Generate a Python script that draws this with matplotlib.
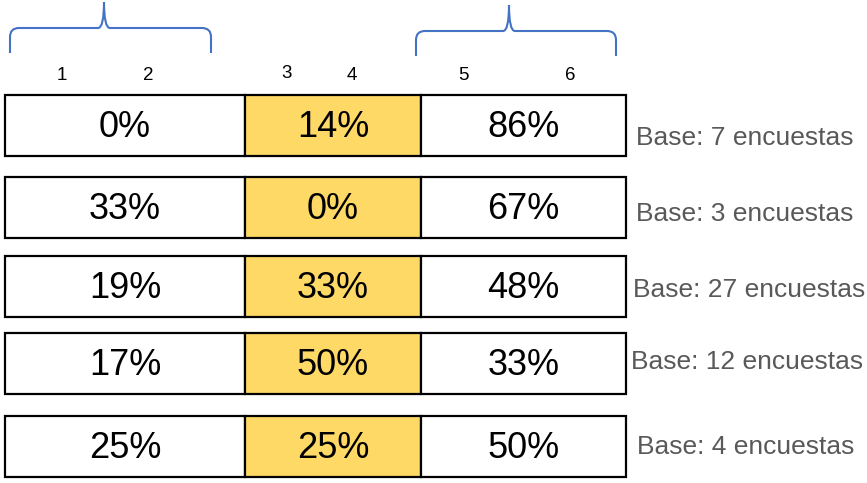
import matplotlib.pyplot as plt
from matplotlib.path import Path
from matplotlib.patches import PathPatch

plt.rcParams["font.family"] = ["Liberation Sans", "DejaVu Sans"]

# data
bajo = [0, 33, 19, 17, 25]      # escala 1-2
medio = [14, 0, 33, 50, 25]     # escala 3-4
alto = [86, 67, 48, 33, 50]     # escala 5-6
bases = [7, 3, 27, 12, 4]
escala = ["1", "2", "3", "4", "5", "6"]

# layout (pixel coordinates, y goes down)
W, H = 867, 483
col_edges = [5, 245, 421, 626]
row_centers = [125.5, 207.5, 286.5, 363.5, 446.5]
row_h = 61
col_colors = ["white", "#FFD966", "white"]
base_x = [636, 636, 633, 631, 637]
base_y = [138, 214, 290, 362, 447]
escala_xy = [(62, 76), (148, 76), (287, 74), (352, 76), (463, 76), (570, 76)]
brace_color = "#4472C4"

fig = plt.figure(figsize=(W / 100, H / 100), dpi=100)
ax = fig.add_axes([0, 0, 1, 1])
ax.set_xlim(0, W)
ax.set_ylim(H, 0)
ax.axis("off")

for j, serie in enumerate([bajo, medio, alto]):
    left = col_edges[j]
    width = col_edges[j + 1] - col_edges[j]
    ax.barh(row_centers, [width] * len(serie), left=left, height=row_h,
            color=col_colors[j], edgecolor="black", linewidth=1.6, zorder=2)
    for yc, v in zip(row_centers, serie):
        ax.text(left + width / 2, yc + 2, f"{v}%", ha="center", va="center",
                fontsize=26, color="black", zorder=3)

for x, y, b in zip(base_x, base_y, bases):
    ax.text(x, y, f"Base: {b} encuestas", ha="left", va="center",
            fontsize=19, color="#595959")

for (x, y), lab in zip(escala_xy, escala):
    ax.text(x, y, lab, ha="center", va="center", fontsize=13.5, color="black")


def brace(x0, x1, xp, y_top, y_mid, y_end):
    r = 9
    verts = [
        (x0, y_end), (x0, y_mid + r),
        (x0, y_mid), (x0 + r, y_mid),
        (xp - 6, y_mid),
        (xp, y_mid), (xp, y_top),
        (xp, y_mid), (xp + 6, y_mid),
        (x1 - r, y_mid),
        (x1, y_mid), (x1, y_mid + r),
        (x1, y_end),
    ]
    codes = [Path.MOVETO, Path.LINETO,
             Path.CURVE3, Path.CURVE3,
             Path.LINETO,
             Path.CURVE3, Path.CURVE3,
             Path.CURVE3, Path.CURVE3,
             Path.LINETO,
             Path.CURVE3, Path.CURVE3,
             Path.LINETO]
    ax.add_patch(PathPatch(Path(verts, codes), fill=False,
                           edgecolor=brace_color, linewidth=1.5))


brace(10, 211, 104, 2, 28, 53)
brace(416, 616, 509, 5, 31, 56)

fig.savefig("out.png", dpi=100)
